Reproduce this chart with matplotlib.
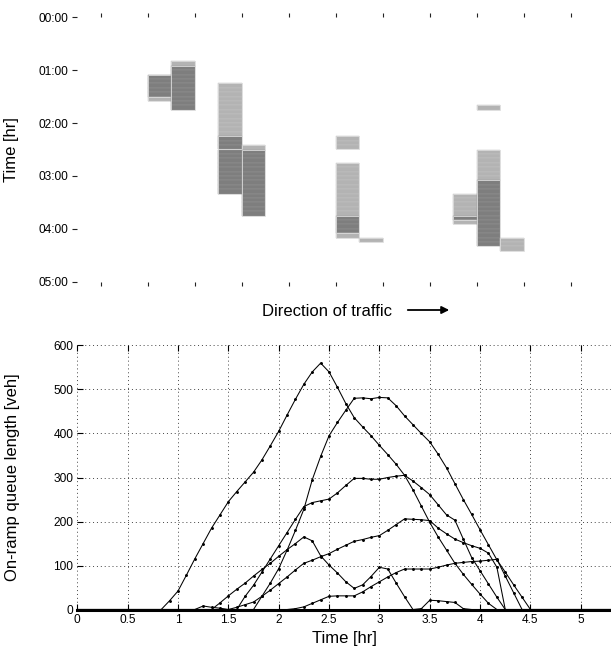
import numpy as np
import matplotlib
matplotlib.use('Agg')
import matplotlib.pyplot as plt
from matplotlib.patches import FancyArrowPatch

plt.rcParams['font.family'] = ['Liberation Sans', 'DejaVu Sans']

# ---------------- top panel data: congested periods per link (hours) ----------------
seg_link = [2, 2, 3, 3, 5, 5, 6, 6, 10, 10, 10, 10, 11, 15, 15, 15, 16, 16, 16, 17]
seg_start = [1.083, 1.5, 0.833, 0.917, 1.25, 2.25, 2.417, 2.5, 2.25, 2.75, 3.75, 4.083,
             4.167, 3.333, 3.75, 3.833, 1.667, 2.5, 3.083, 4.167]
seg_end = [1.5, 1.583, 0.917, 1.75, 2.25, 3.333, 2.5, 3.75, 2.5, 3.75, 4.083, 4.167,
           4.25, 3.75, 3.833, 3.917, 1.75, 3.083, 4.333, 4.417]
seg_kind = ['dark', 'light', 'light', 'dark', 'light', 'dark', 'light', 'dark', 'light',
            'light', 'dark', 'light', 'light', 'light', 'dark', 'light', 'light', 'light',
            'dark', 'light']
link_ticks = [0, 2, 4, 6, 8, 10, 12, 14, 16, 18, 20]
time_ticks = [0, 1, 2, 3, 4, 5]
time_labels = ['00:00', '01:00', '02:00', '03:00', '04:00', '05:00']

# ---------------- bottom panel data: on-ramp queues, 5-minute samples ----------------
step_hr = 5 / 60
n_steps = 65
qA_start = 10
qA = [0, 20, 42, 78, 115, 150, 185, 215, 245, 268, 290, 312, 340, 372, 405, 442, 478, 512,
      540, 560, 540, 505, 468, 436, 415, 395, 373, 352, 330, 305, 272, 235, 198, 165, 135,
      105, 80, 57, 35, 14, 0]
qB_start = 21
qB = [0, 30, 60, 93, 135, 180, 228, 295, 348, 395, 425, 453, 480, 481, 479, 482, 481, 463,
      440, 420, 400, 381, 353, 322, 286, 250, 216, 181, 147, 113, 85, 56, 28, 0]
qC_start = 19
qC = [0, 30, 55, 85, 115, 145, 175, 205, 234, 243, 247, 251, 265, 282, 298, 298, 296, 296,
      300, 303, 305, 292, 277, 261, 238, 215, 203, 160, 118, 88, 58, 28, 0]
qD_start = 14
qD = [0, 8, 5, 3, 0, 5, 11, 17, 30, 44, 59, 74, 90, 105, 112, 120, 127, 137, 146, 155, 159,
      164, 168, 180, 193, 206, 205, 204, 202, 185, 172, 160, 152, 145, 139, 128, 96, 0]
qE_start = 25
qE = [0, 2, 6, 14, 22, 30, 31, 31, 31, 40, 52, 63, 74, 84, 92, 92, 92, 92, 96, 101, 105, 107,
      109, 110, 112, 114, 76, 38, 0]
qF_start = 16
qF = [0, 15, 31, 46, 60, 76, 91, 105, 121, 136, 150, 165, 156, 122, 101, 83, 63, 48, 56, 75,
      96, 92, 60, 29, 0, 2, 21, 20, 18, 16, 2, 0]
x_ticks = [0, 0.5, 1, 1.5, 2, 2.5, 3, 3.5, 4, 4.5, 5]
x_labels = ['0', '0.5', '1', '1.5', '2', '2.5', '3', '3.5', '4', '4.5', '5']
y_ticks = [0, 100, 200, 300, 400, 500, 600]

W, H = 611, 656
fig = plt.figure(figsize=(W / 100, H / 100), dpi=100)

# ---------------- top panel ----------------
ax1 = fig.add_axes([77.3 / W, 1 - 281.7 / H, 517 / W, 264.4 / H])
face = {'dark': '#7e7e7e', 'light': '#b3b3b3'}
edge = {'dark': '#939393', 'light': '#c3c3c3'}
for lk, s, e, kd in zip(seg_link, seg_start, seg_end, seg_kind):
    n = int(round((e - s) / step_hr))
    bottoms = s + np.arange(n) * step_hr
    ax1.bar([lk] * n, [step_hr] * n, bottom=bottoms, width=1.0, align='edge',
            color=face[kd], edgecolor=edge[kd], linewidth=0.35)
    ax1.bar([lk], [e - s], bottom=[s], width=1.0, align='edge', fill=False,
            edgecolor='#dcdcdc', linewidth=0.6)
ax1.set_xlim(-1, 21)
ax1.set_ylim(5, 0)
for sp in ax1.spines.values():
    sp.set_visible(False)
ax1.set_xticks(link_ticks)
ax1.tick_params(axis='x', which='both', top=True, bottom=True, labeltop=False,
                labelbottom=False, direction='out', length=3, width=0.8, color='#222222')
ax1.set_yticks(time_ticks)
ax1.set_yticklabels(time_labels)
ax1.tick_params(axis='y', direction='out', length=3.3, width=0.8, pad=3.2,
                labelsize=8.6, color='#222222')
ax1.set_ylabel('Time [hr]', fontsize=12)
ax1.yaxis.set_label_coords(-0.112, 0.5)

fig.text(262 / W, 1 - 311 / H, 'Direction of traffic', ha='left', va='center', fontsize=12)
fig.add_artist(FancyArrowPatch((405 / W, 1 - 310 / H), (452 / W, 1 - 310 / H),
                               transform=fig.transFigure, arrowstyle='-|>',
                               mutation_scale=11, lw=1.3, color='k'))

# ---------------- bottom panel ----------------
ax2 = fig.add_axes([77.3 / W, 1 - 609.5 / H, 533.7 / W, 264 / H])
t = np.arange(n_steps) * step_hr
for start, vals in [(qA_start, qA), (qB_start, qB), (qC_start, qC),
                    (qD_start, qD), (qE_start, qE), (qF_start, qF)]:
    q = np.zeros(n_steps)
    q[start:start + len(vals)] = vals
    ax2.plot(t, q, '-', color='k', lw=0.75, marker='o', ms=1.1, clip_on=False, zorder=3)
ax2.set_xlim(0, 5.3)
ax2.set_ylim(0, 600)
for k in ['left', 'right', 'top']:
    ax2.spines[k].set_visible(False)
ax2.spines['bottom'].set_linewidth(2.2)
ax2.spines['bottom'].set_zorder(4)
ax2.set_xticks(x_ticks)
ax2.set_xticklabels(x_labels)
ax2.set_yticks(y_ticks)
ax2.tick_params(axis='both', direction='in', length=4, width=0.8, labelsize=8.6, pad=3)
ax2.tick_params(axis='x', top=True)
ax2.grid(True, color='#444444', linestyle=(0, (1, 3)), linewidth=0.7)
ax2.set_axisbelow(True)
ax2.set_xlabel('Time [hr]', fontsize=12, labelpad=4)
ax2.set_ylabel('On-ramp queue length [veh]', fontsize=12)
ax2.yaxis.set_label_coords(-0.107, 0.5)

fig.savefig('out.png', dpi=100)
